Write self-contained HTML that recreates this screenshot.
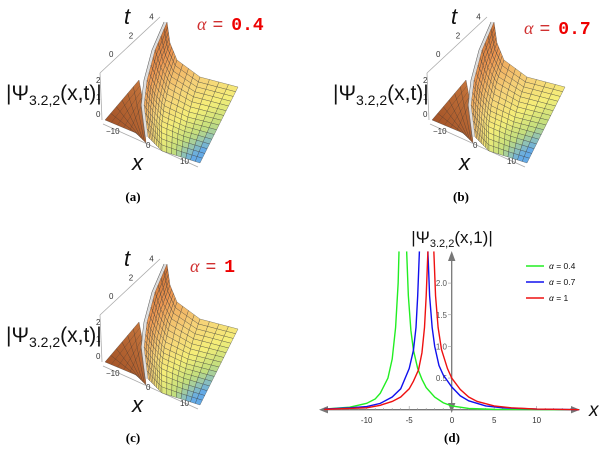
<!DOCTYPE html>
<html><head><meta charset="utf-8"><style>
body{margin:0;background:#fff;}
svg{display:block;font-family:"Liberation Sans",sans-serif;}
</style></head><body>
<svg id="fig" width="607" height="450" viewBox="0 0 607 450" xmlns="http://www.w3.org/2000/svg">
<defs>
<linearGradient id="wingGrad" x1="0" y1="1" x2="1" y2="0">
<stop offset="0" stop-color="#9a4a22"/><stop offset="1" stop-color="#c8783e"/></linearGradient>
</defs>
<g id="panels"></g>
<text x="133" y="201" font-family="Liberation Serif,serif" font-weight="bold" font-size="13" text-anchor="middle">(a)</text>
<text x="461" y="201" font-family="Liberation Serif,serif" font-weight="bold" font-size="13" text-anchor="middle">(b)</text>
<text x="133" y="442" font-family="Liberation Serif,serif" font-weight="bold" font-size="13" text-anchor="middle">(c)</text>
<text x="452" y="442" font-family="Liberation Serif,serif" font-weight="bold" font-size="13" text-anchor="middle">(d)</text>
<g id="chartD"></g>
</svg>
<script>
// ---- Panel (d) data ----
const xTicks = [-10, -5, 5, 10];
const xTickLabels = ["-10", "-5", "5", "10"];
const yTicks = [0.5, 1.0, 1.5, 2.0];
const yTickLabels = ["0.5", "1.0", "1.5", "2.0"];
const seriesNames = ["α = 0.4", "α = 0.7", "α = 1"];
const seriesColors = ["#22ee22", "#1010ee", "#ee1111"];
const greenLeftX = [-15,-12,-10,-9,-8.4,-7.5,-7,-6.6,-6.3,-6.2];
const greenLeftY = [0.01,0.04,0.1,0.17,0.26,0.5,0.8,1.3,2.0,2.5];
const greenRightX = [-5.3,-5.1,-4.8,-4.5,-4,-3.5,-3,-2,-1,0,2,5,15];
const greenRightY = [2.5,1.8,1.25,0.94,0.65,0.48,0.35,0.2,0.11,0.06,0.02,0.005,0];
const blueLeftX = [-15,-12,-10,-8.4,-7,-6,-5,-4.5,-4.2,-4,-3.8];
const blueLeftY = [0.01,0.03,0.05,0.1,0.2,0.33,0.65,0.94,1.3,1.8,2.5];
const blueRightX = [-2.8,-2.6,-2.3,-2,-1.5,-1,0,1,2,4,6,10,15];
const blueRightY = [2.5,1.8,1.3,1.0,0.7,0.55,0.36,0.22,0.14,0.06,0.03,0.01,0];
const redLeftX = [-15,-12,-10,-8.4,-7,-6,-5,-4.5,-3.9,-3.5,-3.2,-3,-2.8];
const redLeftY = [0.005,0.02,0.03,0.07,0.13,0.2,0.33,0.45,0.63,0.9,1.3,1.8,2.5];
const redRightX = [-2.1,-1.9,-1.6,-1.2,-0.5,0,1,2,3,5,7,10,15];
const redRightY = [2.5,1.8,1.3,0.95,0.65,0.5,0.32,0.2,0.13,0.06,0.03,0.01,0];

const NS = "http://www.w3.org/2000/svg";
function mk(tag, attrs, parent){const e=document.createElementNS(NS,tag);for(const k in attrs)e.setAttribute(k,attrs[k]);parent.appendChild(e);return e;}
const sx = v => 451.7 + v*8.5;
const sy = v => 409.7 - v*63.3;
const D = document.getElementById('chartD');

const xa = mk('line',{x1:324,y1:409.7,x2:574,y2:409.7,stroke:'#777','stroke-width':1.3},D);


mk('polygon',{points:'319,409.7 328,406 328,413.4',fill:'#777'},D);
mk('polygon',{points:'580,409.7 571,406 571,413.4',fill:'#777'},D);
const ya = mk('line',{x1:451.7,y1:256,x2:451.7,y2:408,stroke:'#777','stroke-width':1.3},D);


mk('polygon',{points:'451.7,251 448,261 455.4,261',fill:'#777'},D);
mk('polygon',{points:'451.7,413 448,403 455.4,403',fill:'#777'},D);
for(let i=-14;i<=14;i++){ if(i===0)continue; mk('line',{x1:sx(i),y1:409.7,x2:sx(i),y2:i%5===0?406:408,stroke:'#999','stroke-width':0.6},D);}
xTicks.forEach((v,i)=>{const t=mk('text',{x:sx(v),y:423,'font-size':8,'text-anchor':'middle',fill:'#333'},D);t.textContent=xTickLabels[i];

});
const z0=mk('text',{x:452,y:423,'font-size':8,'text-anchor':'middle',fill:'#333'},D);z0.textContent='0';
yTicks.forEach((v,i)=>{mk('line',{x1:451.7,y1:sy(v),x2:448,y2:sy(v),stroke:'#999','stroke-width':0.6},D);
const t=mk('text',{x:447,y:sy(v)+3,'font-size':8,'text-anchor':'end',fill:'#555'},D);t.textContent=yTickLabels[i];

});
const xl=mk('text',{x:589,y:416,'font-size':19,'font-style':'italic',fill:'#111'},D);xl.textContent='x';


const yt=mk('text',{x:452,y:243,'font-size':17,'text-anchor':'middle',fill:'#111'},D);
yt.innerHTML='|Ψ<tspan font-size="11" dy="4">3.2,2</tspan><tspan dy="-4">(x,1)|</tspan>';



const series=[[greenLeftX,greenLeftY,greenRightX,greenRightY],[blueLeftX,blueLeftY,blueRightX,blueRightY],[redLeftX,redLeftY,redRightX,redRightY]];
series.forEach((s,k)=>{
  for(let b=0;b<2;b++){
    const X=s[b*2],Y=s[b*2+1];
    const p=mk('polyline',{points:X.map((x,i)=>sx(x)+','+sy(Y[i])).join(' '),fill:'none',stroke:seriesColors[k],'stroke-width':1.4},D);
    
    
  }
  const ly=266+k*16;
  const g=mk('g',{},D);
  
  
  mk('line',{x1:526,y1:ly,x2:544,y2:ly,stroke:seriesColors[k],'stroke-width':1.5},g);
  const t=mk('text',{x:549,y:ly+3,'font-size':8.5,fill:'#111'},g);
  t.innerHTML='<tspan font-style="italic">α</tspan>'+seriesNames[k].slice(1);
});

// ---- 3D panels (approximate surfaces) ----
const P=document.getElementById('panels');
const lerp=(a,b,t)=>[a[0]+(b[0]-a[0])*t,a[1]+(b[1]-a[1])*t];
function along(pts,t){const n=pts.length-1;let f=t*n,i=Math.min(Math.floor(f),n-1);return lerp(pts[i],pts[i+1],f-i);}
function col(s){const st=[[0,[185,95,40]],[0.3,[236,150,80]],[0.55,[246,210,120]],[0.72,[245,238,120]],[0.86,[195,222,125]],[1,[100,170,230]]];
 for(let i=0;i<st.length-1;i++){if(s<=st[i+1][0]){const t=(s-st[i][0])/(st[i+1][0]-st[i][0]);const a=st[i][1],b=st[i+1][1];return 'rgb('+a.map((v,j)=>Math.round(v+(b[j]-v)*t)).join(',')+')';}}return 'rgb(100,170,230)';}
function panel(dx,dy,alphaLabel,ax,ay,name){
 const g=mk('g',{transform:`translate(${dx},${dy})`},P);
 
 
 const gr='#aaa';
 mk('line',{x1:100,y1:73,x2:160,y2:17,stroke:gr,'stroke-width':0.8},g);
 mk('line',{x1:100,y1:73,x2:102,y2:120,stroke:gr,'stroke-width':0.8},g);
 mk('line',{x1:103,y1:124,x2:198,y2:167,stroke:gr,'stroke-width':0.8},g);
 [[0.25,'0'],[0.58,'2'],[0.92,'4']].forEach(([t,l])=>{const p=lerp([100,73],[160,17],t);const tx=mk('text',{x:p[0]-6,y:p[1]-2,'font-size':8,fill:'#333'},g);tx.textContent=l;});
 [[83,'2'],[100,'1'],[117,'0']].forEach(([y,l])=>{const tx=mk('text',{x:96,y:y,'font-size':8,fill:'#333'},g);tx.textContent=l;});
 [[106,134,'−10'],[146,148,'0'],[180,164,'10']].forEach(([x,y,l])=>{const tx=mk('text',{x:x,y:y,'font-size':8,fill:'#333'},g);tx.textContent=l;});
 const tl=mk('text',{x:124,y:24,'font-size':22,'font-style':'italic',fill:'#111'},g);tl.textContent='t';
 const xl=mk('text',{x:132,y:170,'font-size':22,'font-style':'italic',fill:'#111'},g);xl.textContent='x';
 const zl=mk('text',{x:6,y:100,'font-size':21,fill:'#111'},g);
 zl.innerHTML='|Ψ<tspan font-size="14" dy="5">3.2,2</tspan><tspan dy="-5">(x,t)|</tspan>';
 
 
 const W=[[105,120],[139,80],[142,96],[146,143],[136,133]];
 mk('polygon',{points:W.map(p=>p.join(',')).join(' '),fill:'url(#wingGrad)',stroke:'#333','stroke-width':0.3},g);
 for(let i=1;i<6;i++){const a=lerp([105,120],[139,80],i/6),b=lerp([136,133],[146,143],i/6);mk('line',{x1:a[0],y1:a[1],x2:b[0],y2:b[1],stroke:'#333','stroke-width':0.3},g);}
 for(let i=1;i<5;i++){const a=lerp([105,120],[136,133],i/5),b=lerp([139,80],[143,110],i/5);mk('line',{x1:a[0],y1:a[1],x2:b[0],y2:b[1],stroke:'#333','stroke-width':0.3,opacity:0.7},g);}
 const B=[[167,22],[170,43],[177,60],[200,77],[238,87]];
 const F=[[148,137],[162,151],[200,163]];
 const L=[[167,22],[155,50],[147,80],[144,105],[148,137]];
 const R=[[238,87],[200,163]];
 const c00=B[0],c10=B[B.length-1],c01=F[0],c11=F[F.length-1];
 const Pt=(u,v)=>{const b=along(B,u),f=along(F,u),l=along(L,v),r=along(R,v);
   return [0,1].map(j=>(1-v)*b[j]+v*f[j]+(1-u)*l[j]+u*r[j]-((1-u)*(1-v)*c00[j]+u*(1-v)*c10[j]+(1-u)*v*c01[j]+u*v*c11[j]));};
 const N=16;
 for(let i=0;i<N;i++)for(let j=0;j<N;j++){
   const u0=i/N,u1=(i+1)/N,v0=j/N,v1=(j+1)/N;
   const pts=[Pt(u0,v0),Pt(u1,v0),Pt(u1,v1),Pt(u0,v1)];
   const uc=u0+0.5/N,vc=v0+0.5/N;
   const s=Math.min(1,0.08+uc*0.6+vc*0.4);
   mk('polygon',{points:pts.map(p=>p.join(',')).join(' '),fill:col(s),stroke:'#333','stroke-width':0.3},g);
 }
 mk('polyline',{points:L.map(p=>(p[0]-1.5)+','+p[1]).join(' '),fill:'none',stroke:'#ddd','stroke-width':2},g);
 mk('polyline',{points:L.map(p=>(p[0]-3)+','+p[1]).join(' '),fill:'none',stroke:'#666','stroke-width':0.6},g);
 const al=mk('text',{x:ax,y:ay,'font-size':18,fill:'#d03030'},P);
 al.innerHTML='<tspan font-family="Liberation Serif,serif" font-style="italic">α</tspan><tspan font-family="Liberation Mono,monospace" dx="6">=</tspan><tspan font-family="Liberation Mono,monospace" font-weight="bold" fill="#ee0000" dx="8">'+alphaLabel+'</tspan>';
 
 
}
panel(0,0,'0.4',197,30,'surface-plot-a');
panel(327,0,'0.7',524,34,'surface-plot-b');
panel(0,242,'1',190,272,'surface-plot-c');
</script>
</body></html>
